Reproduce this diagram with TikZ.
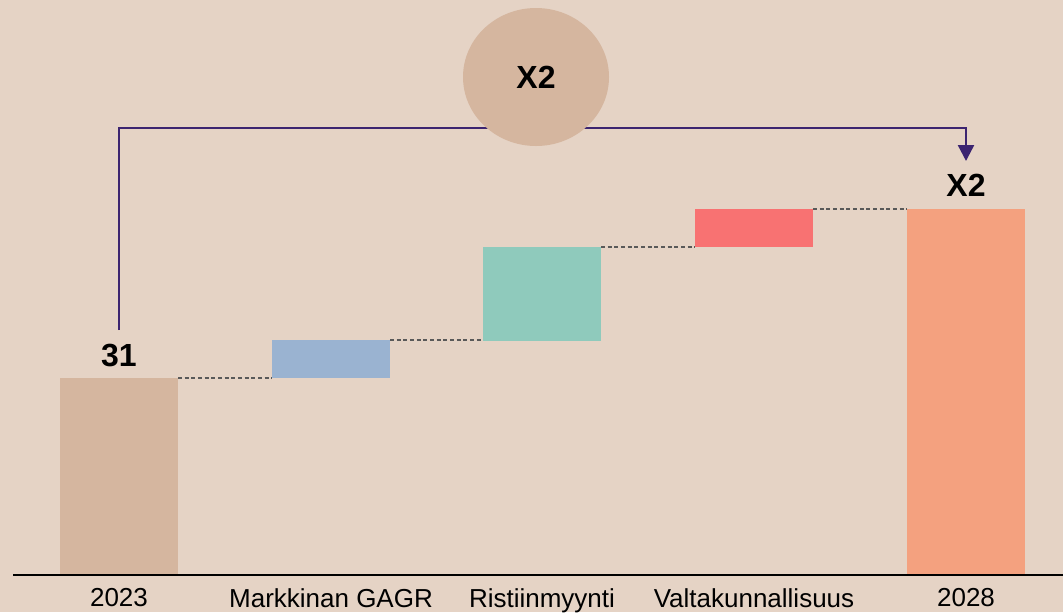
\documentclass[tikz,border=0pt]{standalone}
\usepackage{fontspec}
\setmainfont{Liberation Sans}
\usepackage{tikz}
\usetikzlibrary{shapes.geometric}
\usetikzlibrary{arrows.meta}
\usetikzlibrary{positioning}
\definecolor{bgbeige}{HTML}{E5D3C5}
\definecolor{tanbar}{HTML}{D5B69F}
\definecolor{bluebar}{HTML}{9AB3D1}
\definecolor{tealbar}{HTML}{8FCABC}
\definecolor{redbar}{HTML}{F87272}
\definecolor{orangebar}{HTML}{F4A17F}
\definecolor{bracketcol}{HTML}{3C2470}
\tikzset{bar/.style={rectangle, fill=#1, draw=none, minimum width=88.5pt, inner sep=0pt, outer sep=0pt},
%default fill is the tan of the start bar
bar/.default={tanbar},
catlabel/.style={font=\fontsize{19.5}{22}\selectfont, inner sep=0pt},
val/.style={font=\fontsize{24}{26}\selectfont\bfseries, inner sep=0pt},
stepline/.style={densely dashed, draw=black!65, line width=0.8pt},
bracket/.style={draw=bracketcol, line width=1.8pt, -{Triangle[width=12pt,length=12pt]}}}

\begin{document}
\begin{tikzpicture}[x=0.75pt,y=-0.75pt]
\fill[bgbeige] (0,0) rectangle (1063,612);
\useasboundingbox (0,0) rectangle (1063,612);

% bars
\node[bar=tanbar, minimum height=147.75pt] (b2023) at (119,476.5) {};
\node[bar=bluebar, minimum height=28.5pt] (bgagr) at (331,359) {};
\node[bar=tealbar, minimum height=70.5pt] (bristi) at (542,294) {};
\node[bar=redbar, minimum height=28.5pt] (bvalta) at (754,228) {};
\node[bar=orangebar, minimum height=274.5pt] (b2028) at (966,392) {};

% steps between bars
\foreach \a/\b in {b2023/bgagr, bgagr/bristi, bristi/bvalta, bvalta/b2028}
     \draw[stepline] (\a.north east) -- (\b.west |- \a.north east);

% axis
\coordinate (axisL) at (13,575);
\coordinate (axisR) at (1063,575);
\draw[line width=1.2pt] (axisL) -- (axisR);

%labels
\foreach \n/\t in {b2023/2023, bgagr/Markkinan GAGR, bristi/Ristiinmyynti, bvalta/Valtakunnallisuus, b2028/2028}
{
     \coordinate (f\n) at (\n |- axisL);
     \node[catlabel, below=9.75pt of f\n] (l\n) {\t};
}

\node[val, above=8.25pt of b2023] (v2023) {31};
\node[val, above=9pt of b2028] (v2028) {X2};

% growth bracket
\coordinate (start) at (119,330);
\coordinate (stop) at (966,161);
\coordinate (top) at (0,128);
\draw[bracket] (start) -- (start |- top) -- (stop |- top) -- (stop);

\node[ellipse, fill=tanbar, minimum width=109.5pt, minimum height=103.5pt, val] (gain) at (536,77) {X2};

\end{tikzpicture}
\end{document}
